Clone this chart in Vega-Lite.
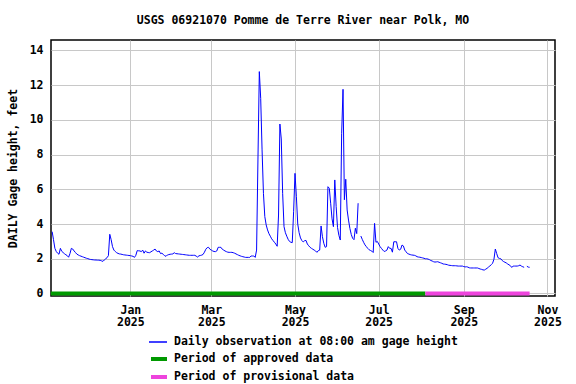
{
  "$schema": "https://vega.github.io/schema/vega-lite/v6.json",
  "width": 504,
  "height": 256,
  "autosize": {"type": "none"},
  "padding": {"left": 51, "top": 40, "right": 21, "bottom": 88},
  "background": "white",
  "title": {"text": "USGS 06921070 Pomme de Terre River near Polk, MO", "font": "DejaVu Sans Mono", "fontSize": 11.5, "fontWeight": "bold", "color": "black", "anchor": "middle", "baseline": "alphabetic", "offset": 4.5},
  "config": {
    "font": "DejaVu Sans Mono",
    "view": {"stroke": "black", "strokeWidth": 1.5},
    "axis": {"labelFont": "DejaVu Sans Mono", "labelFontSize": 11.5, "labelFontWeight": "bold", "labelColor": "black", "titleFont": "DejaVu Sans Mono", "titleFontSize": 11.5, "titleFontWeight": "bold", "titleColor": "black", "gridColor": "#c8c8c8", "gridWidth": 1, "gridOpacity": 1, "domain": false, "ticks": false},
    "legend": {"labelFont": "DejaVu Sans Mono", "labelFontSize": 11.5, "labelFontWeight": "bold", "labelColor": "black", "title": null, "orient": "none", "padding": 0, "symbolType": "stroke", "symbolSize": 324, "rowPadding": 0, "labelOffset": 3, "labelLimit": 500}
  },
  "datasets": {
    "gage": [
      {"date":"2024-11-05","h":3.56},{"date":"2024-11-06","h":3.1},{"date":"2024-11-07","h":2.6},{"date":"2024-11-08","h":2.42},{"date":"2024-11-09","h":2.32},{"date":"2024-11-10","h":2.26},{"date":"2024-11-11","h":2.6},{"date":"2024-11-12","h":2.43},{"date":"2024-11-13","h":2.36},{"date":"2024-11-14","h":2.29},{"date":"2024-11-15","h":2.23},{"date":"2024-11-16","h":2.18},{"date":"2024-11-17","h":2.09},{"date":"2024-11-18","h":2.3},{"date":"2024-11-19","h":2.6},{"date":"2024-11-20","h":2.56},{"date":"2024-11-21","h":2.45},{"date":"2024-11-22","h":2.36},{"date":"2024-11-23","h":2.27},{"date":"2024-11-24","h":2.22},{"date":"2024-11-25","h":2.18},{"date":"2024-11-26","h":2.15},{"date":"2024-11-27","h":2.12},{"date":"2024-11-28","h":2.09},{"date":"2024-11-29","h":2.06},{"date":"2024-11-30","h":2.03},
      {"date":"2024-12-01","h":2.01},{"date":"2024-12-02","h":1.98},{"date":"2024-12-03","h":1.96},{"date":"2024-12-04","h":1.95},{"date":"2024-12-05","h":1.94},{"date":"2024-12-06","h":1.93},{"date":"2024-12-07","h":1.93},{"date":"2024-12-08","h":1.92},{"date":"2024-12-09","h":1.92},{"date":"2024-12-10","h":1.91},{"date":"2024-12-11","h":1.88},{"date":"2024-12-12","h":1.85},{"date":"2024-12-13","h":1.93},{"date":"2024-12-14","h":2.0},{"date":"2024-12-15","h":2.06},{"date":"2024-12-16","h":2.18},{"date":"2024-12-17","h":3.41},{"date":"2024-12-18","h":3.1},{"date":"2024-12-19","h":2.7},{"date":"2024-12-20","h":2.5},{"date":"2024-12-21","h":2.42},{"date":"2024-12-22","h":2.35},{"date":"2024-12-23","h":2.31},{"date":"2024-12-24","h":2.28},{"date":"2024-12-25","h":2.27},{"date":"2024-12-26","h":2.25},{"date":"2024-12-27","h":2.23},{"date":"2024-12-28","h":2.22},{"date":"2024-12-29","h":2.21},{"date":"2024-12-30","h":2.2},{"date":"2024-12-31","h":2.19},
      {"date":"2025-01-01","h":2.18},{"date":"2025-01-02","h":2.16},{"date":"2025-01-03","h":2.14},{"date":"2025-01-04","h":2.08},{"date":"2025-01-05","h":2.2},{"date":"2025-01-06","h":2.47},{"date":"2025-01-07","h":2.46},{"date":"2025-01-08","h":2.45},{"date":"2025-01-09","h":2.41},{"date":"2025-01-10","h":2.5},{"date":"2025-01-11","h":2.32},{"date":"2025-01-12","h":2.45},{"date":"2025-01-13","h":2.38},{"date":"2025-01-14","h":2.36},{"date":"2025-01-15","h":2.35},{"date":"2025-01-16","h":2.4},{"date":"2025-01-17","h":2.45},{"date":"2025-01-18","h":2.5},{"date":"2025-01-19","h":2.56},{"date":"2025-01-20","h":2.45},{"date":"2025-01-21","h":2.41},{"date":"2025-01-22","h":2.45},{"date":"2025-01-23","h":2.3},{"date":"2025-01-24","h":2.32},{"date":"2025-01-25","h":2.25},{"date":"2025-01-26","h":2.18},{"date":"2025-01-27","h":2.14},{"date":"2025-01-28","h":2.22},{"date":"2025-01-29","h":2.24},{"date":"2025-01-30","h":2.26},{"date":"2025-01-31","h":2.27},
      {"date":"2025-02-01","h":2.28},{"date":"2025-02-02","h":2.35},{"date":"2025-02-03","h":2.3},{"date":"2025-02-04","h":2.29},{"date":"2025-02-05","h":2.28},{"date":"2025-02-06","h":2.27},{"date":"2025-02-07","h":2.26},{"date":"2025-02-08","h":2.25},{"date":"2025-02-09","h":2.24},{"date":"2025-02-10","h":2.23},{"date":"2025-02-11","h":2.22},{"date":"2025-02-12","h":2.21},{"date":"2025-02-13","h":2.2},{"date":"2025-02-14","h":2.2},{"date":"2025-02-15","h":2.2},{"date":"2025-02-16","h":2.2},{"date":"2025-02-17","h":2.2},{"date":"2025-02-18","h":2.15},{"date":"2025-02-19","h":2.1},{"date":"2025-02-20","h":2.17},{"date":"2025-02-21","h":2.19},{"date":"2025-02-22","h":2.21},{"date":"2025-02-23","h":2.25},{"date":"2025-02-24","h":2.38},{"date":"2025-02-25","h":2.55},{"date":"2025-02-26","h":2.64},{"date":"2025-02-27","h":2.66},{"date":"2025-02-28","h":2.55},
      {"date":"2025-03-01","h":2.5},{"date":"2025-03-02","h":2.45},{"date":"2025-03-03","h":2.42},{"date":"2025-03-04","h":2.41},{"date":"2025-03-05","h":2.45},{"date":"2025-03-06","h":2.66},{"date":"2025-03-07","h":2.66},{"date":"2025-03-08","h":2.66},{"date":"2025-03-09","h":2.55},{"date":"2025-03-10","h":2.5},{"date":"2025-03-11","h":2.45},{"date":"2025-03-12","h":2.41},{"date":"2025-03-13","h":2.38},{"date":"2025-03-14","h":2.37},{"date":"2025-03-15","h":2.37},{"date":"2025-03-16","h":2.37},{"date":"2025-03-17","h":2.35},{"date":"2025-03-18","h":2.32},{"date":"2025-03-19","h":2.28},{"date":"2025-03-20","h":2.24},{"date":"2025-03-21","h":2.2},{"date":"2025-03-22","h":2.17},{"date":"2025-03-23","h":2.14},{"date":"2025-03-24","h":2.12},{"date":"2025-03-25","h":2.1},{"date":"2025-03-26","h":2.08},{"date":"2025-03-27","h":2.08},{"date":"2025-03-28","h":2.08},{"date":"2025-03-29","h":2.08},{"date":"2025-03-30","h":2.16},{"date":"2025-03-31","h":2.16},
      {"date":"2025-04-01","h":2.16},{"date":"2025-04-02","h":2.08},{"date":"2025-04-03","h":2.5},{"date":"2025-04-04","h":7.69},{"date":"2025-04-05","h":12.78},{"date":"2025-04-06","h":11.24},{"date":"2025-04-07","h":8.27},{"date":"2025-04-08","h":5.77},{"date":"2025-04-09","h":4.43},{"date":"2025-04-10","h":3.95},{"date":"2025-04-11","h":3.66},{"date":"2025-04-12","h":3.45},{"date":"2025-04-13","h":3.3},{"date":"2025-04-14","h":3.15},{"date":"2025-04-15","h":3.05},{"date":"2025-04-16","h":2.95},{"date":"2025-04-17","h":2.85},{"date":"2025-04-18","h":2.72},{"date":"2025-04-19","h":4.52},{"date":"2025-04-20","h":9.76},{"date":"2025-04-21","h":8.9},{"date":"2025-04-22","h":5.77},{"date":"2025-04-23","h":3.85},{"date":"2025-04-24","h":3.5},{"date":"2025-04-25","h":3.3},{"date":"2025-04-26","h":3.12},{"date":"2025-04-27","h":3.0},{"date":"2025-04-28","h":2.95},{"date":"2025-04-29","h":2.93},{"date":"2025-04-30","h":4.71},
      {"date":"2025-05-01","h":6.92},{"date":"2025-05-02","h":5.6},{"date":"2025-05-03","h":4.0},{"date":"2025-05-04","h":3.5},{"date":"2025-05-05","h":3.2},{"date":"2025-05-06","h":3.05},{"date":"2025-05-07","h":2.97},{"date":"2025-05-08","h":3.04},{"date":"2025-05-09","h":3.06},{"date":"2025-05-10","h":2.85},{"date":"2025-05-11","h":2.75},{"date":"2025-05-12","h":2.66},{"date":"2025-05-13","h":2.6},{"date":"2025-05-14","h":2.55},{"date":"2025-05-15","h":2.5},{"date":"2025-05-16","h":2.45},{"date":"2025-05-17","h":2.37},{"date":"2025-05-18","h":2.47},{"date":"2025-05-19","h":2.5},{"date":"2025-05-20","h":3.89},{"date":"2025-05-21","h":3.27},{"date":"2025-05-22","h":2.89},{"date":"2025-05-23","h":2.66},{"date":"2025-05-24","h":2.7},{"date":"2025-05-25","h":6.15},{"date":"2025-05-26","h":6.06},{"date":"2025-05-27","h":5.2},{"date":"2025-05-28","h":4.3},{"date":"2025-05-29","h":3.85},{"date":"2025-05-30","h":6.54},{"date":"2025-05-31","h":5.0},
      {"date":"2025-06-01","h":3.8},{"date":"2025-06-02","h":3.35},{"date":"2025-06-03","h":3.08},{"date":"2025-06-04","h":9.2},{"date":"2025-06-05","h":11.76},{"date":"2025-06-06","h":5.4},{"date":"2025-06-07","h":6.58},{"date":"2025-06-08","h":4.81},{"date":"2025-06-09","h":4.23},{"date":"2025-06-10","h":3.75},{"date":"2025-06-11","h":3.4},{"date":"2025-06-12","h":3.18},{"date":"2025-06-13","h":3.1},{"date":"2025-06-14","h":3.76},{"date":"2025-06-15","h":3.45},{"date":"2025-06-16","h":5.2},{"date":"2025-06-17","h":null},{"date":"2025-06-18","h":3.31},{"date":"2025-06-19","h":3.12},{"date":"2025-06-20","h":2.95},{"date":"2025-06-21","h":2.8},{"date":"2025-06-22","h":2.7},{"date":"2025-06-23","h":2.6},{"date":"2025-06-24","h":2.52},{"date":"2025-06-25","h":2.48},{"date":"2025-06-26","h":2.44},{"date":"2025-06-27","h":2.36},{"date":"2025-06-28","h":4.04},{"date":"2025-06-29","h":2.95},{"date":"2025-06-30","h":3.0},
      {"date":"2025-07-01","h":2.85},{"date":"2025-07-02","h":2.7},{"date":"2025-07-03","h":2.6},{"date":"2025-07-04","h":2.5},{"date":"2025-07-05","h":2.42},{"date":"2025-07-06","h":2.45},{"date":"2025-07-07","h":2.5},{"date":"2025-07-08","h":2.7},{"date":"2025-07-09","h":2.6},{"date":"2025-07-10","h":2.6},{"date":"2025-07-11","h":2.38},{"date":"2025-07-12","h":2.98},{"date":"2025-07-13","h":2.98},{"date":"2025-07-14","h":2.98},{"date":"2025-07-15","h":2.6},{"date":"2025-07-16","h":2.5},{"date":"2025-07-17","h":2.55},{"date":"2025-07-18","h":2.79},{"date":"2025-07-19","h":2.74},{"date":"2025-07-20","h":2.5},{"date":"2025-07-21","h":2.4},{"date":"2025-07-22","h":2.3},{"date":"2025-07-23","h":2.27},{"date":"2025-07-24","h":2.24},{"date":"2025-07-25","h":2.22},{"date":"2025-07-26","h":2.21},{"date":"2025-07-27","h":2.2},{"date":"2025-07-28","h":2.17},{"date":"2025-07-29","h":2.12},{"date":"2025-07-30","h":2.1},{"date":"2025-07-31","h":2.09},
      {"date":"2025-08-01","h":2.07},{"date":"2025-08-02","h":2.05},{"date":"2025-08-03","h":2.03},{"date":"2025-08-04","h":2.0},{"date":"2025-08-05","h":2.0},{"date":"2025-08-06","h":1.98},{"date":"2025-08-07","h":1.95},{"date":"2025-08-08","h":1.9},{"date":"2025-08-09","h":1.87},{"date":"2025-08-10","h":1.83},{"date":"2025-08-11","h":1.81},{"date":"2025-08-12","h":1.82},{"date":"2025-08-13","h":1.83},{"date":"2025-08-14","h":1.8},{"date":"2025-08-15","h":1.77},{"date":"2025-08-16","h":1.74},{"date":"2025-08-17","h":1.7},{"date":"2025-08-18","h":1.69},{"date":"2025-08-19","h":1.68},{"date":"2025-08-20","h":1.66},{"date":"2025-08-21","h":1.63},{"date":"2025-08-22","h":1.62},{"date":"2025-08-23","h":1.61},{"date":"2025-08-24","h":1.6},{"date":"2025-08-25","h":1.6},{"date":"2025-08-26","h":1.6},{"date":"2025-08-27","h":1.59},{"date":"2025-08-28","h":1.58},{"date":"2025-08-29","h":1.58},{"date":"2025-08-30","h":1.58},{"date":"2025-08-31","h":1.58},
      {"date":"2025-09-01","h":1.55},{"date":"2025-09-02","h":1.53},{"date":"2025-09-03","h":1.54},{"date":"2025-09-04","h":1.52},{"date":"2025-09-05","h":1.48},{"date":"2025-09-06","h":1.47},{"date":"2025-09-07","h":1.47},{"date":"2025-09-08","h":1.47},{"date":"2025-09-09","h":1.47},{"date":"2025-09-10","h":1.47},{"date":"2025-09-11","h":1.47},{"date":"2025-09-12","h":1.44},{"date":"2025-09-13","h":1.41},{"date":"2025-09-14","h":1.39},{"date":"2025-09-15","h":1.36},{"date":"2025-09-16","h":1.35},{"date":"2025-09-17","h":1.4},{"date":"2025-09-18","h":1.45},{"date":"2025-09-19","h":1.52},{"date":"2025-09-20","h":1.58},{"date":"2025-09-21","h":1.66},{"date":"2025-09-22","h":1.74},{"date":"2025-09-23","h":1.97},{"date":"2025-09-24","h":2.56},{"date":"2025-09-25","h":2.3},{"date":"2025-09-26","h":2.06},{"date":"2025-09-27","h":2.02},{"date":"2025-09-28","h":2.0},{"date":"2025-09-29","h":1.9},{"date":"2025-09-30","h":1.84},
      {"date":"2025-10-01","h":1.8},{"date":"2025-10-02","h":1.76},{"date":"2025-10-03","h":1.7},{"date":"2025-10-04","h":1.65},{"date":"2025-10-05","h":1.6},{"date":"2025-10-06","h":1.5},{"date":"2025-10-07","h":1.58},{"date":"2025-10-08","h":1.58},{"date":"2025-10-09","h":1.58},{"date":"2025-10-10","h":1.58},{"date":"2025-10-11","h":1.6},{"date":"2025-10-12","h":1.64},{"date":"2025-10-13","h":1.58},{"date":"2025-10-14","h":1.54},{"date":"2025-10-15","h":1.51},{"date":"2025-10-16","h":null},{"date":"2025-10-17","h":1.57},{"date":"2025-10-18","h":1.52},{"date":"2025-10-19","h":1.51}
    ],
    "periods": [
      {"period": "Period of approved data", "start": "2024-11-04", "end": "2025-08-04"},
      {"period": "Period of provisional data", "start": "2025-08-04", "end": "2025-10-19"}
    ]
  },
  "layer": [
    {
      "data": {"name": "gage"},
      "mark": {"type": "line", "strokeWidth": 1, "clip": true},
      "encoding": {
        "x": {
          "field": "date", "type": "temporal",
          "scale": {"type": "utc", "domain": [1730692800000, 1762430400000]},
          "axis": {"title": null, "values": [1735689600000, 1740787200000, 1746057600000, 1751328000000, 1756684800000, 1761955200000], "labelExpr": "[utcFormat(datum.value, '%b'), utcFormat(datum.value, '%Y')]", "labelPadding": 8, "labelLineHeight": 12.5, "labelFlush": false, "labelOverlap": false, "labelBound": false, "grid": true}
        },
        "y": {
          "field": "h", "type": "quantitative",
          "scale": {"domain": [-0.144, 14.6], "nice": false, "zero": false},
          "axis": {"title": "DAILY Gage height, feet", "values": [0, 2, 4, 6, 8, 10, 12, 14], "labelOverlap": false, "labelPadding": 8, "titlePadding": 11, "grid": true}
        },
        "color": {
          "datum": "Daily observation at 08:00 am gage height", "type": "nominal",
          "scale": {"domain": ["Daily observation at 08:00 am gage height"], "range": ["#0000ff"]},
          "legend": {"title": null, "orient": "none", "legendX": 97, "legendY": 292, "symbolStrokeWidth": 1.5, "labelOffset": 6}
        }
      }
    },
    {
      "data": {"name": "periods"},
      "mark": {"type": "rule", "strokeWidth": 4, "strokeCap": "butt"},
      "encoding": {
        "x": {
          "field": "start", "type": "temporal",
          "scale": {"type": "utc", "domain": [1730692800000, 1762430400000]},
          "axis": {"title": null, "values": [1735689600000, 1740787200000, 1746057600000, 1751328000000, 1756684800000, 1761955200000], "labelExpr": "[utcFormat(datum.value, '%b'), utcFormat(datum.value, '%Y')]", "labelPadding": 8, "labelLineHeight": 12.5, "labelFlush": false, "labelOverlap": false, "labelBound": false, "grid": true}
        },
        "x2": {"field": "end"},
        "y": {
          "datum": 0, "type": "quantitative",
          "scale": {"domain": [-0.144, 14.6], "nice": false, "zero": false},
          "axis": {"title": "DAILY Gage height, feet", "values": [0, 2, 4, 6, 8, 10, 12, 14], "labelOverlap": false, "labelPadding": 8, "titlePadding": 11, "grid": true}
        },
        "stroke": {
          "field": "period", "type": "nominal",
          "scale": {"domain": ["Period of approved data", "Period of provisional data"], "range": ["#009900", "#ee44dd"]},
          "legend": {"title": null, "orient": "none", "legendX": 98, "legendY": 309, "symbolStrokeWidth": 4, "symbolSize": 256, "rowPadding": 0, "labelOffset": 5}
        }
      }
    }
  ]
}
